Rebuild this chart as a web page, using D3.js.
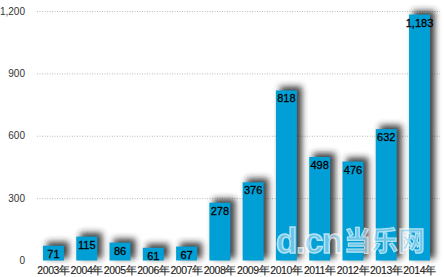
<!DOCTYPE html>
<html><head><meta charset="utf-8">
<script src="https://cdn.jsdelivr.net/npm/d3@7"></script>
<style>body{margin:0;background:#fff}svg{display:block}</style>
</head><body>
<svg id="c" width="444" height="277"></svg>
<script>
const years = ["2003年","2004年","2005年","2006年","2007年","2008年","2009年","2010年","2011年","2012年","2013年","2014年"];
const values = [71,115,86,61,67,278,376,818,498,476,632,1183];
const yTicks = [0,300,600,900,1200];

const svg = d3.select("#c");
const font = "'Liberation Sans', Arial, Helvetica, sans-serif";
const x = d3.scaleBand().domain(years).range([37,436]).paddingInner(0.37).paddingOuter(0.18);
const y = d3.scaleLinear().domain([0,1200]).range([260.5,11]);

const defs = svg.append("defs");
const f = defs.append("filter").attr("id","sh").attr("x","-50%").attr("y","-50%").attr("width","200%").attr("height","200%");
f.append("feGaussianBlur").attr("stdDeviation",3.2);

// grid
svg.append("g").selectAll("line").data(yTicks.filter(d=>d>0)).join("line")
  .attr("x1",37).attr("x2",440).attr("y1",d=>y(d)+0.5).attr("y2",d=>y(d)+0.5)
  .attr("stroke","#bbb").attr("stroke-width",1).attr("stroke-dasharray","1,1.5");

// y labels
svg.append("g").selectAll("text").data(yTicks).join("text")
  .attr("x",25).attr("y",d=>y(d)+3.5).attr("text-anchor","end")
  .attr("font-family",font).attr("font-size",10).attr("fill","#333")
  .text(d=>d3.format(",")(d));

// shadows
svg.append("g").selectAll("rect").data(values).join("rect")
  .attr("x",(d,i)=>x(years[i])+4).attr("y",d=>y(d)-4)
  .attr("width",x.bandwidth()+1).attr("height",d=>y(0)-y(d)+2)
  .attr("fill","#222").attr("opacity",0.85).attr("filter","url(#sh)");

// bars
svg.append("g").selectAll("rect").data(values).join("rect")
  .attr("x",(d,i)=>x(years[i])).attr("y",d=>y(d))
  .attr("width",x.bandwidth()).attr("height",d=>y(0)-y(d))
  .attr("fill","#00a0d6");

// value labels
svg.append("g").selectAll("text").data(values).join("text")
  .attr("x",(d,i)=>x(years[i])+x.bandwidth()/2).attr("y",d=>y(d)+12)
  .attr("text-anchor","middle").attr("font-family",font).attr("font-size",11)
  .attr("fill","#000").attr("stroke","#000").attr("stroke-width",0.3)
  .text(d=>d3.format(",")(d));

// x labels
svg.append("g").selectAll("text").data(years).join("text")
  .attr("x",d=>x(d)+x.bandwidth()/2).attr("y",274)
  .attr("text-anchor","middle").attr("font-family",font).attr("font-size",10.5)
  .attr("fill","#222").attr("letter-spacing",-0.4).attr("stroke","#222").attr("stroke-width",0.15)
  .text(d=>d);

// watermark
const wm = svg.append("g").attr("opacity",0.7);
wm.append("text").attr("x",276).attr("y",253).attr("font-family",font).attr("font-size",35)
  .attr("font-weight","bold").attr("fill","#9ad6f2").attr("stroke","#fff").attr("stroke-width",1.5)
  .attr("letter-spacing",-1.5).text("d.cn");
wm.append("text").attr("x",344).attr("y",251).attr("font-family","'Noto Sans CJK SC', sans-serif").attr("font-size",27)
  .attr("font-weight","bold").attr("fill","#9ad6f2").attr("stroke","#fff").attr("stroke-width",1.2)
  .text("当乐网");
</script>
</body></html>
